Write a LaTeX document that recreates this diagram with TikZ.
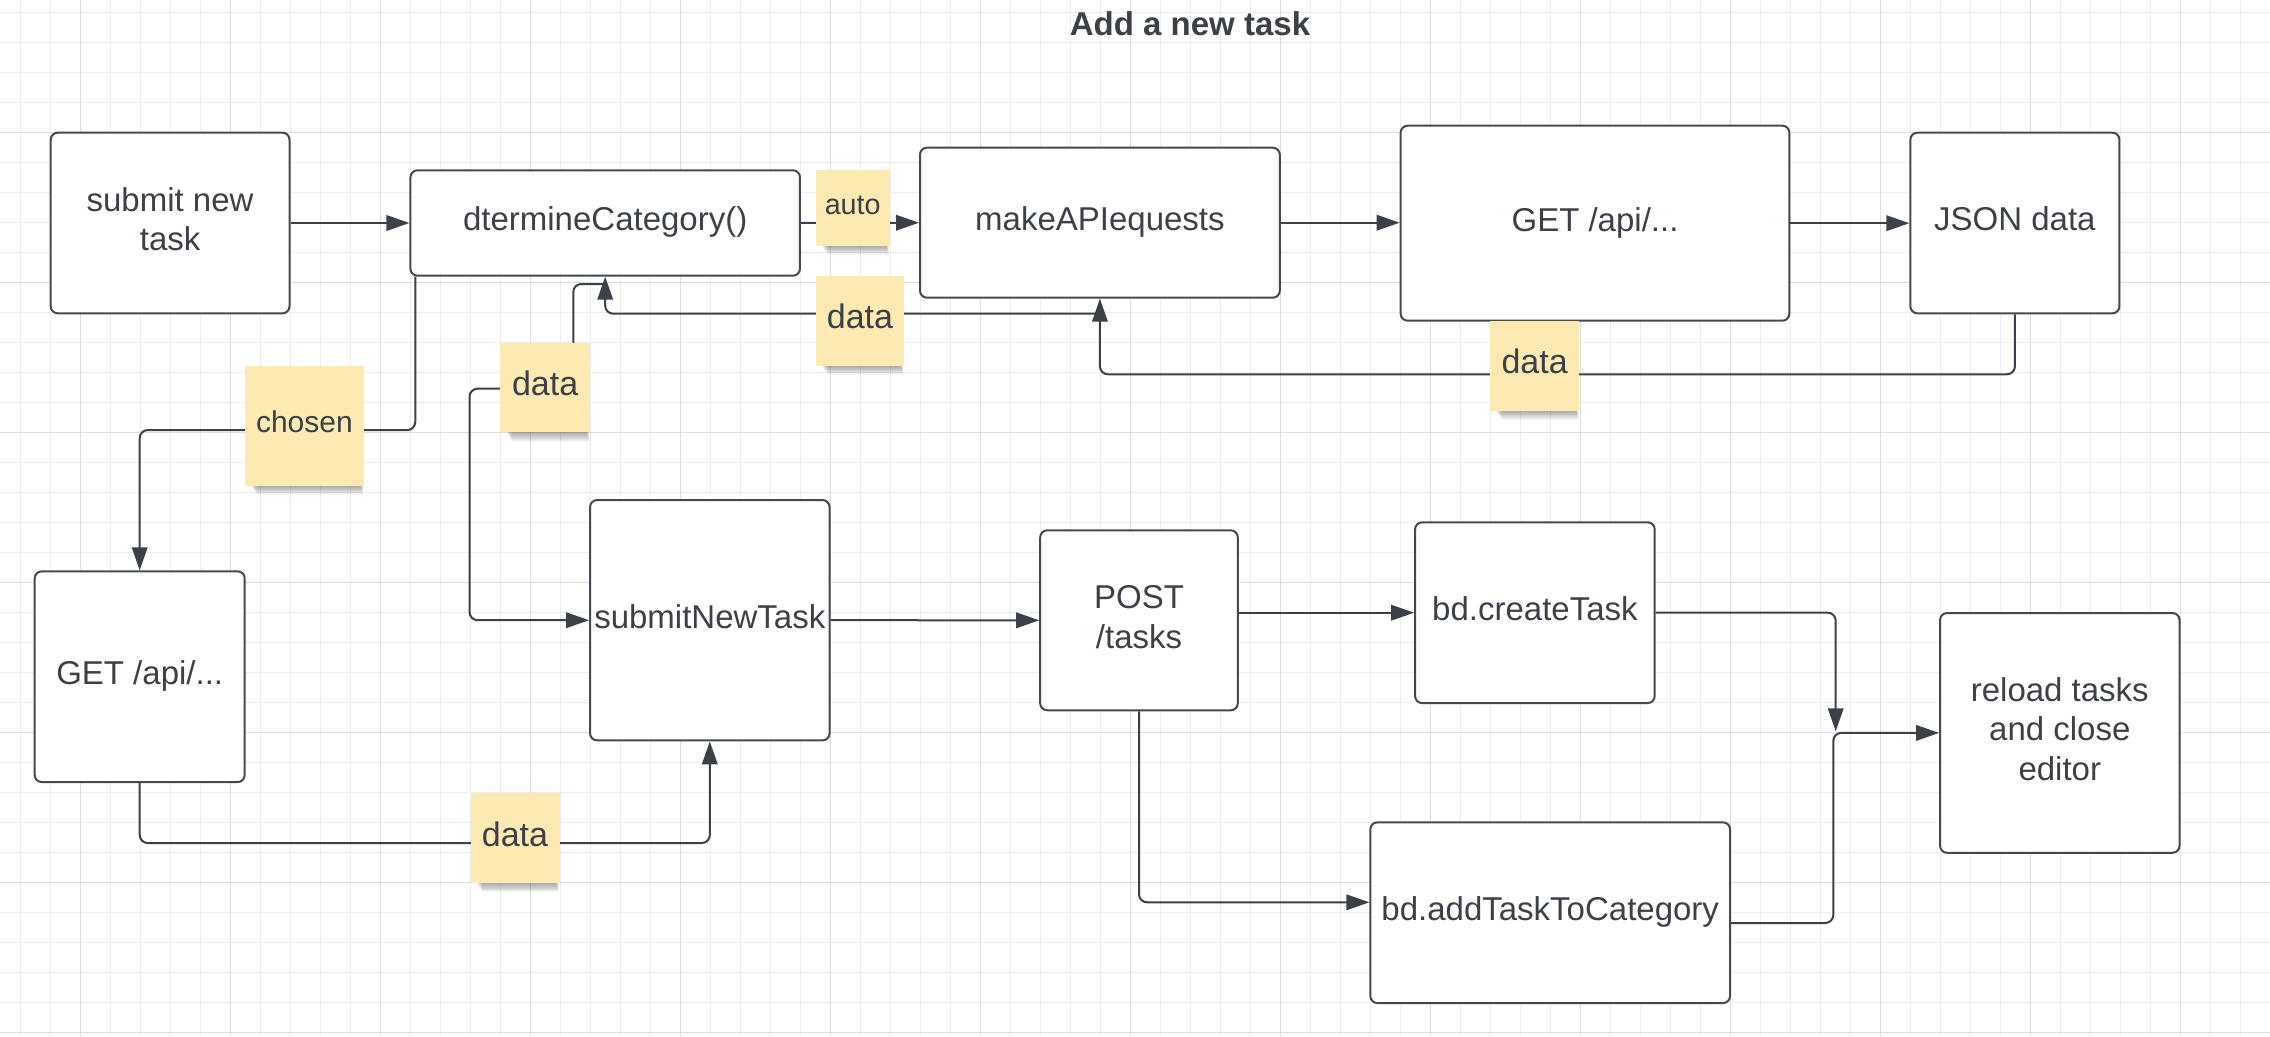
\documentclass[tikz,border=0pt]{standalone}
\usepackage{fontspec}
\setmainfont{Liberation Sans}
\usetikzlibrary{arrows.meta,calc}
\definecolor{textc}{RGB}{59,64,73}
\definecolor{linec}{RGB}{60,65,73}
\definecolor{boxc}{RGB}{68,73,80}
\definecolor{stickyc}{RGB}{253,234,178}
\definecolor{gridminor}{RGB}{237,237,237}
\definecolor{gridmajor}{RGB}{221,221,221}
\definecolor{shadowc}{RGB}{40,40,40}
\newcommand{\mlines}[1]{\begin{tabular}[t]{@{}c@{}}#1\end{tabular}}
\pgfdeclarelayer{gridlayer}
\pgfdeclarelayer{shadowlayer}
\pgfsetlayers{gridlayer,shadowlayer,main}
\tikzset{
  box/.style={draw=boxc, line width=2pt, rounded corners=7pt, fill=white, inner sep=0pt,
    font=\fontsize{33}{39.6}\selectfont, text=textc},
  sticky/.style={fill=stickyc, inner sep=0pt, text=textc},
  conn/.style={draw=linec, line width=2pt, rounded corners=8pt},
  arr/.style={-{Triangle[length=23pt,width=15.5pt]}},
  ttl/.style={font=\fontsize{33}{39.6}\selectfont\bfseries, text=textc, inner sep=0pt},
  gminor/.style={draw=gridminor, line width=1pt},
  gmajor/.style={draw=gridmajor, line width=1.3pt}
}
\begin{document}
\begin{tikzpicture}[x=1pt,y=-1pt]
\useasboundingbox (0,0) rectangle (2270,1036);
\begin{pgfonlayer}{gridlayer}
  \fill[white] (0,0) rectangle (2270,1036);
  \foreach \x in {20.3,50.3,...,2269} \draw[gminor] (\x,0) -- (\x,1036);
  \foreach \y in {12.3,42.3,...,1035} \draw[gminor] (0,\y) -- (2270,\y);
  \foreach \x in {80.3,230.3,...,2269} \draw[gmajor] (\x,0) -- (\x,1036);
  \foreach \y in {132.3,282.3,...,1035} \draw[gmajor] (0,\y) -- (2270,\y);
\end{pgfonlayer}

% title
\node[ttl, anchor=base] (title) at (1190,35) {Add a new task};

% boxes
\node[box, minimum width=238.8pt, minimum height=180.6pt] (submit) at (170.1,223) {\mlines{submit new\\task}};
\node[box, minimum width=389.5pt, minimum height=105.4pt] (dtermine) at (605.2,223) {\mlines{dtermineCategory()}};
\node[box, minimum width=359.8pt, minimum height=150pt] (makeapi) at (1099.9,222.7) {\mlines{makeAPIequests}};
\node[box, minimum width=388.7pt, minimum height=195pt] (gettop) at (1595,223.2) {\mlines{GET /api/...}};
\node[box, minimum width=209.1pt, minimum height=180.6pt] (json) at (2014.9,223) {\mlines{JSON data}};
\node[box, minimum width=210pt, minimum height=210.7pt] (getleft) at (139.7,676.7) {\mlines{GET /api/...}};
\node[box, minimum width=239.5pt, minimum height=240.3pt] (submitnew) at (709.8,620.2) {\mlines{submitNewTask}};
\node[box, minimum width=197.6pt, minimum height=180pt] (post) at (1139,620.3) {\mlines{POST\\/tasks}};
\node[box, minimum width=239.6pt, minimum height=180.7pt] (createtask) at (1534.9,612.7) {\mlines{bd.createTask}};
\node[box, minimum width=359.7pt, minimum height=180.7pt] (addtask) at (1550.2,912.7) {\mlines{bd.addTaskToCategory}};
\node[box, minimum width=239.5pt, minimum height=239.7pt] (reload) at (2059.8,732.9) {\mlines{reload tasks\\and close\\editor}};

% junction coordinates
\coordinate (j1) at ($(makeapi.south)+(0,15)$);
\coordinate (j2) at ($(dtermine.south)+(0,7.3)$);
\coordinate (m1) at (1835.7,731.3);

% connectors
\draw[conn,arr] (submit.east) -- (dtermine.west);
\draw[conn,arr] (dtermine.east) -- (makeapi.west);
\draw[conn,arr] (makeapi.east) -- (makeapi.east -| gettop.west);
\draw[conn,arr] (gettop.east) -- (gettop.east -| json.west);
\draw[conn,arr] (json.south) -- ++(0,60) -| (makeapi.south);
\draw[conn,arr] (j1) -| (dtermine.south);
\draw[conn,arr] (j2) -| ++(-31.9,104.7) -| ($(submitnew.west)+(-119.5,0)$) -- (submitnew.west);
\draw[conn,arr] ($(dtermine.south west)+(5.8,0)$) |- ($(getleft.north)+(0,-140.3)$) -- (getleft.north);
\draw[conn,arr] (getleft.south) |- ($(submitnew.south)+(0,101.7)$) -- (submitnew.south);
\draw[conn,arr] (submitnew.east) -- (post.west);
\draw[conn,arr] (post.east |- createtask.west) -- (createtask.west);
\draw[conn,arr] (createtask.east) -| (m1);
\draw[conn,arr] ($(addtask.east)+(0,10.3)$) -| ($(reload.west)+(-105.8,0)$) -- (reload.west);
\draw[conn,arr] (post.south) |- ($(addtask.west)+(0,-10.4)$);

% sticky notes
\node[sticky, font=\fontsize{28.7}{34.4}\selectfont, minimum width=73.8pt, minimum height=75.4pt] (sauto) at (852.7,208) {\mlines{auto}};
\node[sticky, font=\fontsize{34}{40.8}\selectfont, minimum width=88.3pt, minimum height=90pt] (sdata1) at (860,320.7) {\mlines{data}};
\node[sticky, font=\fontsize{34}{40.8}\selectfont, minimum width=89.8pt, minimum height=89.3pt] (sdata2) at (545.1,387.7) {\mlines{data}};
\node[sticky, font=\fontsize{30}{36}\selectfont, minimum width=119.4pt, minimum height=120pt] (schosen) at (304.4,425.7) {\mlines{chosen}};
\node[sticky, font=\fontsize{34}{40.8}\selectfont, minimum width=89pt, minimum height=90pt] (sdata3) at (515,838) {\mlines{data}};
\node[sticky, font=\fontsize{34}{40.8}\selectfont, minimum width=89.7pt, minimum height=90pt] (sdata4) at (1534.6,365.7) {\mlines{data}};

\begin{pgfonlayer}{shadowlayer}
  \foreach \s in {sauto,sdata1,sdata2,schosen,sdata3,sdata4}{
    \foreach \k in {1,...,10}{
      \fill[shadowc,opacity=0.045] ($(\s.south west)+(6+\k*0.6,-5)$) rectangle ($(\s.south east)+(-4+\k*0.3,\k*0.9)$);
    }
  }
\end{pgfonlayer}
\end{tikzpicture}
\end{document}
